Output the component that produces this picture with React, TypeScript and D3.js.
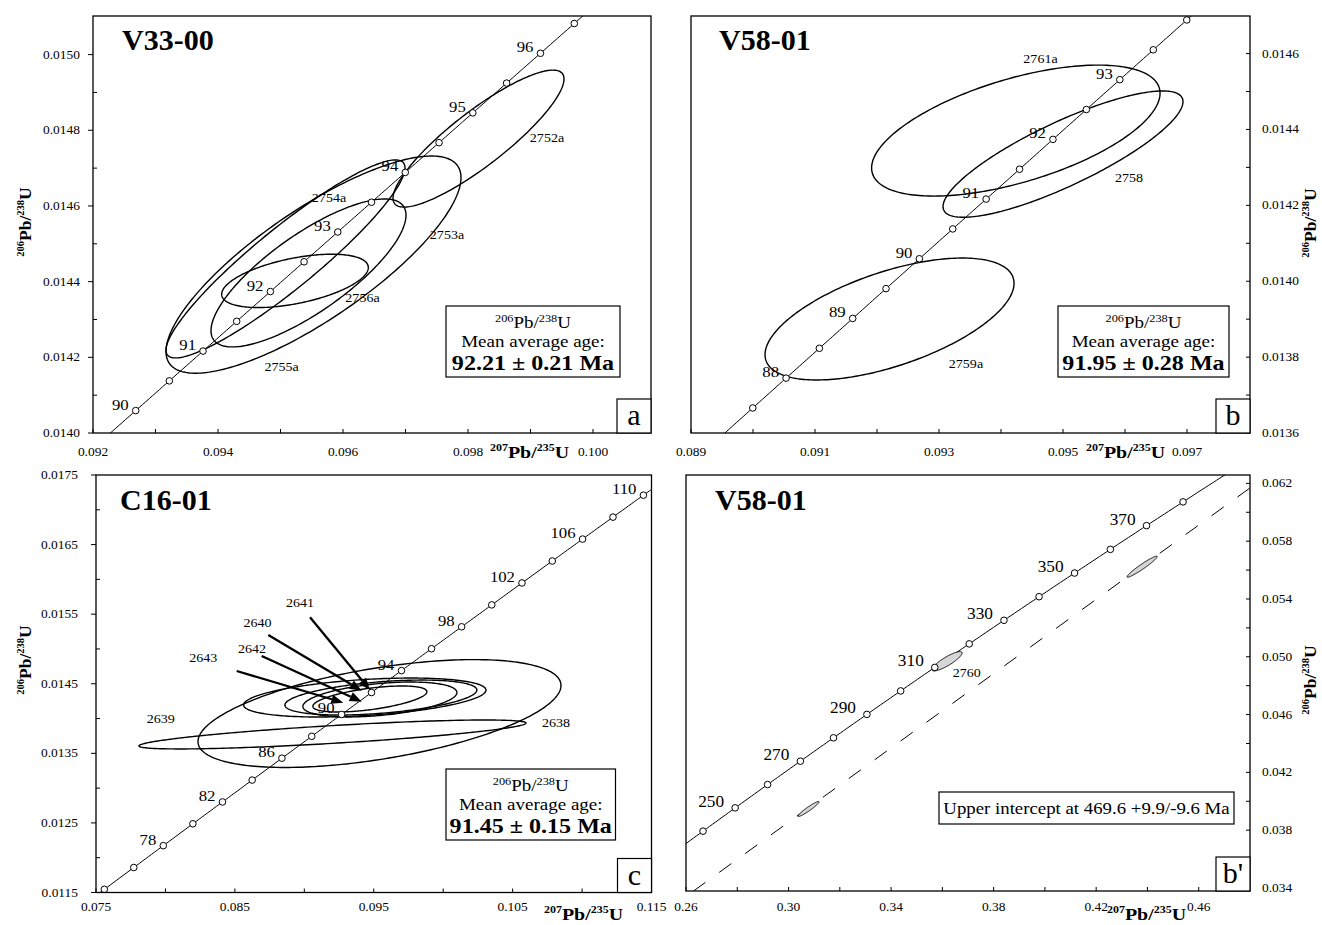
import React from "react";
import * as d3 from "d3";

const FONT = "'Liberation Serif', 'Times New Roman', Times, serif";
// decay constants per Ma
const LAMBDA_238 = 1.55125e-4;
const LAMBDA_235 = 9.8485e-4;
const concordia = (t: number): [number, number] => [Math.expm1(LAMBDA_235 * t), Math.expm1(LAMBDA_238 * t)];

type Ell = { id: string; cx: number; cy: number; sx: number; sy: number; rho: number };
type Lbl = { text: string; x: number; y: number };
type Arrow = { x1: number; y1: number; x2: number; y2: number };

// ---------------- Panel a : V33-00
const aXTicks = [0.092, 0.094, 0.096, 0.098, 0.1];
const aXMinor = [0.093, 0.095, 0.097, 0.099];
const aYTicks = [0.014, 0.0142, 0.0144, 0.0146, 0.0148, 0.015];
const aYMinor = [0.0141, 0.0143, 0.0145, 0.0147, 0.0149];
const aMarkerAges = [90, 90.5, 91, 91.5, 92, 92.5, 93, 93.5, 94, 94.5, 95, 95.5, 96, 96.5];
const aLabelAges = [90, 91, 92, 93, 94, 95, 96];
const aEllipses: Ell[] = [
  { id: "2752a", cx: 0.098168, cy: 0.014778, sx: 0.001368, sy: 0.000181, rho: 0.87 },
  { id: "2753a", cx: 0.095448, cy: 0.014423, sx: 0.00156, sy: 0.0001955, rho: 0.78 },
  { id: "2754a", cx: 0.09508, cy: 0.01446, sx: 0.001912, sy: 0.0002616, rho: 0.92 },
  { id: "2755a", cx: 0.095528, cy: 0.014445, sx: 0.00236, sy: 0.000287, rho: 0.8 },
  { id: "2756a", cx: 0.095232, cy: 0.014402, sx: 0.001173, sy: 0.0000705, rho: 0.5 },
];
const aEllipseLabels: Lbl[] = [
  { text: "2752a", x: 0.099264, y: 0.01477 },
  { text: "2753a", x: 0.097664, y: 0.014514 },
  { text: "2754a", x: 0.095776, y: 0.01461 },
  { text: "2756a", x: 0.096312, y: 0.014345 },
  { text: "2755a", x: 0.095018, y: 0.014164 },
];

// ---------------- Panel b : V58-01
const bXTicks = [0.089, 0.091, 0.093, 0.095, 0.097];
const bXMinor = [0.09, 0.092, 0.094, 0.096];
const bYTicks = [0.0136, 0.0138, 0.014, 0.0142, 0.0144, 0.0146];
const bYMinor = [0.0137, 0.0139, 0.0141, 0.0143, 0.0145];
const bMarkerAges = [87.5, 88, 88.5, 89, 89.5, 90, 90.5, 91, 91.5, 92, 92.5, 93, 93.5, 94];
const bLabelAges = [88, 89, 90, 91, 92, 93];
const bEllipses: Ell[] = [
  { id: "2761a", cx: 0.094239, cy: 0.014397, sx: 0.002326, sy: 0.0001726, rho: 0.57 },
  { id: "2758", cx: 0.095, cy: 0.014335, sx: 0.001935, sy: 0.0001665, rho: 0.83 },
  { id: "2759a", cx: 0.092202, cy: 0.0139004, sx: 0.002008, sy: 0.0001607, rho: 0.585 },
];
const bEllipseLabels: Lbl[] = [
  { text: "2761a", x: 0.094637, y: 0.014574 },
  { text: "2758", x: 0.096065, y: 0.014261 },
  { text: "2759a", x: 0.093435, y: 0.01377 },
];

// ---------------- Panel c : C16-01
const cXTicks = [0.075, 0.085, 0.095, 0.105, 0.115];
const cXMinor = [0.08, 0.09, 0.1, 0.11];
const cYTicks = [0.0115, 0.0125, 0.0135, 0.0145, 0.0155, 0.0165, 0.0175];
const cYMinor = [0.012, 0.013, 0.014, 0.015, 0.016, 0.017];
const cMarkerAges = [74, 76, 78, 80, 82, 84, 86, 88, 90, 92, 94, 96, 98, 100, 102, 104, 106, 108, 110];
const cLabelAges = [78, 82, 86, 90, 94, 98, 102, 106, 110];
const cEllipses: Ell[] = [
  { id: "2638", cx: 0.095413, cy: 0.014072, sx: 0.013069, sy: 0.000775, rho: 0.52 },
  { id: "2639", cx: 0.092029, cy: 0.013771, sx: 0.013933, sy: 0.000208, rho: 0.79 },
  { id: "2640", cx: 0.094355, cy: 0.014302, sx: 0.008727, sy: 0.00028, rho: 0.38 },
  { id: "2641", cx: 0.095514, cy: 0.014302, sx: 0.006912, sy: 0.000251, rho: 0.43 },
  { id: "2642", cx: 0.095442, cy: 0.014274, sx: 0.005544, sy: 0.000251, rho: 0.4 },
  { id: "2643", cx: 0.094722, cy: 0.014281, sx: 0.004104, sy: 0.000187, rho: 0.56 },
];
const cEllipseLabels: Lbl[] = [
  { text: "2639", x: 0.079666, y: 0.013936 },
  { text: "2638", x: 0.108122, y: 0.013883 },
  { text: "2641", x: 0.089689, y: 0.015599 },
  { text: "2640", x: 0.086629, y: 0.015311 },
  { text: "2642", x: 0.086233, y: 0.014938 },
  { text: "2643", x: 0.082726, y: 0.014817 },
];
const cArrows: Arrow[] = [
  { x1: 0.090409, y1: 0.015455, x2: 0.094729, y2: 0.01441 },
  { x1: 0.087406, y1: 0.015201, x2: 0.094132, y2: 0.0144 },
  { x1: 0.086931, y1: 0.014899, x2: 0.094132, y2: 0.014242 },
  { x1: 0.085131, y1: 0.014683, x2: 0.092807, y2: 0.014228 },
];

// ---------------- Panel b' : V58-01 (discordia)
const dXTicks = [0.26, 0.3, 0.34, 0.38, 0.42, 0.46];
const dXMinor = [0.28, 0.32, 0.36, 0.4, 0.44];
const dYTicks = [0.034, 0.038, 0.042, 0.046, 0.05, 0.054, 0.058, 0.062];
const dYMinor = [0.036, 0.04, 0.044, 0.048, 0.052, 0.056, 0.06];
const dMarkerAges = [240, 250, 260, 270, 280, 290, 300, 310, 320, 330, 340, 350, 360, 370, 380];
const dLabelAges = [250, 270, 290, 310, 330, 350, 370];
const dEllipses: Ell[] = [
  { id: "2760", cx: 0.36184, cy: 0.049689, sx: 0.00586, sy: 0.00067, rho: 0.86 },
  { id: "d1", cx: 0.30781, cy: 0.039467, sx: 0.0041, sy: 0.000519, rho: 0.95 },
  { id: "d2", cx: 0.43793, cy: 0.056235, sx: 0.00586, sy: 0.000727, rho: 0.96 },
];
const dEllipseLabels: Lbl[] = [{ text: "2760", x: 0.36949, y: 0.048623 }];
const dDiscordiaAges: [number, number] = [0, 469.6];

type Box = { x0: number; y0: number; x1: number; y1: number; lines: string[] };

type PanelCfg = {
  id: string;
  frame: { l: number; t: number; r: number; b: number };
  xDomain: [number, number];
  yDomain: [number, number];
  xTicks: number[]; xMinor: number[]; yTicks: number[]; yMinor: number[];
  xDec: number; yDec: number;
  ySide: "left" | "right";
  xLabelY: number; yLabelGap: number;
  concRange: [number, number]; concStep: number;
  markerAges: number[]; labelAges: number[]; ageFont: number; ageDx: number;
  ellipses: Ell[]; ellipseLabels: Lbl[]; ellFill?: string; ellStroke: number;
  arrows?: Arrow[];
  discordia?: [number, number];
  title: string; titleX: number; titleY: number;
  letter: string;
  box: Box;
  xTitle: { x: number; y: number };
  yTitle: { x: number; y: number };
};

const panels: PanelCfg[] = [
  {
    id: "a", frame: { l: 93, t: 16, r: 651, b: 433 },
    xDomain: [0.092, 0.100928], yDomain: [0.014, 0.015102],
    xTicks: aXTicks, xMinor: aXMinor, yTicks: aYTicks, yMinor: aYMinor, xDec: 3, yDec: 4,
    ySide: "left", xLabelY: 456, yLabelGap: 13,
    concRange: [89, 98], concStep: 0.05,
    markerAges: aMarkerAges, labelAges: aLabelAges, ageFont: 15.5, ageDx: 7,
    ellipses: aEllipses, ellipseLabels: aEllipseLabels, ellStroke: 1.4,
    title: "V33-00", titleX: 122, titleY: 50, letter: "a",
    box: { x0: 446, y0: 306, x1: 620, y1: 377, lines: ["92.21 ± 0.21 Ma"] },
    xTitle: { x: 490, y: 458 }, yTitle: { x: 31, y: 222 },
  },
  {
    id: "b", frame: { l: 691, t: 16, r: 1250, b: 433 },
    xDomain: [0.089, 0.098016], yDomain: [0.0136, 0.014699],
    xTicks: bXTicks, xMinor: bXMinor, yTicks: bYTicks, yMinor: bYMinor, xDec: 3, yDec: 4,
    ySide: "right", xLabelY: 456, yLabelGap: 12,
    concRange: [87, 95], concStep: 0.05,
    markerAges: bMarkerAges, labelAges: bLabelAges, ageFont: 15.5, ageDx: 7,
    ellipses: bEllipses, ellipseLabels: bEllipseLabels, ellStroke: 1.4,
    title: "V58-01", titleX: 719, titleY: 50, letter: "b",
    box: { x0: 1058, y0: 306, x1: 1229, y1: 377, lines: ["91.95 ± 0.28 Ma"] },
    xTitle: { x: 1086, y: 458 }, yTitle: { x: 1316, y: 223 },
  },
  {
    id: "c", frame: { l: 96, t: 475, r: 651.5, b: 892.5 },
    xDomain: [0.075, 0.115], yDomain: [0.0115, 0.0175],
    xTicks: cXTicks, xMinor: cXMinor, yTicks: cYTicks, yMinor: cYMinor, xDec: 3, yDec: 4,
    ySide: "left", xLabelY: 910.5, yLabelGap: 18,
    concRange: [72, 113], concStep: 0.2,
    markerAges: cMarkerAges, labelAges: cLabelAges, ageFont: 15.5, ageDx: 7,
    ellipses: cEllipses, ellipseLabels: cEllipseLabels, ellStroke: 1.4,
    arrows: cArrows,
    title: "C16-01", titleX: 120, titleY: 510, letter: "c",
    box: { x0: 446, y0: 769, x1: 615.5, y1: 840, lines: ["91.45 ± 0.15 Ma"] },
    xTitle: { x: 544, y: 920 }, yTitle: { x: 31, y: 660 },
  },
  {
    id: "d", frame: { l: 686, t: 475, r: 1250, b: 891 },
    xDomain: [0.26, 0.48], yDomain: [0.03379, 0.06258],
    xTicks: dXTicks, xMinor: dXMinor, yTicks: dYTicks, yMinor: dYMinor, xDec: 2, yDec: 3,
    ySide: "right", xLabelY: 910.5, yLabelGap: 12,
    concRange: [200, 420], concStep: 1,
    markerAges: dMarkerAges, labelAges: dLabelAges, ageFont: 16, ageDx: 11,
    ellipses: dEllipses, ellipseLabels: dEllipseLabels, ellFill: "#d6d6d6", ellStroke: 1,
    discordia: dDiscordiaAges,
    title: "V58-01", titleX: 715, titleY: 510, letter: "b'",
    box: { x0: 939, y0: 792, x1: 1234, y1: 824, lines: ["Upper intercept at 469.6 +9.9/-9.6 Ma"] },
    xTitle: { x: 1107, y: 920 }, yTitle: { x: 1316, y: 680 },
  },
];

const SX = 1.12; // horizontal stretch of the original figure's text

function isoSpans(a: string, b: string, big: number, small: number, rise: number) {
  return [
    <tspan key="1" fontSize={small} dy={-rise}>{a}</tspan>,
    <tspan key="2" fontSize={big} dy={rise}>Pb/</tspan>,
    <tspan key="3" fontSize={small} dy={-rise}>{b}</tspan>,
    <tspan key="4" fontSize={big} dy={rise}>U</tspan>,
  ];
}

function ellipsePoints(e: Ell, n = 240): [number, number][] {
  const k = Math.sqrt(1 - e.rho * e.rho);
  return d3.range(n).map((i) => {
    const th = (2 * Math.PI * i) / n;
    return [e.cx + e.sx * Math.cos(th), e.cy + e.sy * (e.rho * Math.cos(th) + k * Math.sin(th))] as [number, number];
  });
}

function Panel({ p }: { p: PanelCfg }) {
  const { l, t, r, b } = p.frame;
  const x = d3.scaleLinear().domain(p.xDomain).range([l, r]);
  const y = d3.scaleLinear().domain(p.yDomain).range([b, t]);
  const line = d3.line<[number, number]>().x((d) => x(d[0])).y((d) => y(d[1]));
  const closed = d3.line<[number, number]>().x((d) => x(d[0])).y((d) => y(d[1])).curve(d3.curveLinearClosed);
  const concPts = d3.range(p.concRange[0], p.concRange[1], p.concStep).map(concordia);
  const clipId = `clip-${p.id}`;
  const xf = (v: number) => v.toFixed(p.xDec);
  const yf = (v: number) => v.toFixed(p.yDec);
  const left = p.ySide === "left";
  const ax = left ? l : r;
  const cxBox = (p.box.x0 + p.box.x1) / 2;

  return (
    <g fontFamily={FONT}>
      <defs>
        <clipPath id={clipId}>
          <rect x={l} y={t} width={r - l} height={b - t} />
        </clipPath>
      </defs>
      {/* ticks */}
      <g stroke="#000" strokeWidth={1}>
        {p.xTicks.map((v) => (
          <line key={"xt" + v} x1={x(v)} x2={x(v)} y1={b} y2={b - 4} />
        ))}
        {p.xMinor.map((v) => (
          <line key={"xm" + v} x1={x(v)} x2={x(v)} y1={b} y2={b - 4} />
        ))}
        {p.yTicks.map((v) => (
          <line key={"yt" + v} x1={ax} x2={left ? ax - 5 : ax - 4} y1={y(v)} y2={y(v)} />
        ))}
        {p.yMinor.map((v) => (
          <line key={"ym" + v} x1={ax} x2={left ? ax + 4 : ax - 4} y1={y(v)} y2={y(v)} />
        ))}
      </g>
      {/* tick labels */}
      <g fontSize={12} fill="#000">
        {p.xTicks.map((v) => (
          <text key={"xl" + v} transform={`translate(${x(v)},${p.xLabelY}) scale(${SX},1)`} textAnchor="middle">
            {xf(v)}
          </text>
        ))}
        {p.yTicks.map((v) => (
          <text
            key={"yl" + v}
            transform={`translate(${left ? l - p.yLabelGap : r + p.yLabelGap},${y(v) + 4}) scale(${SX},1)`}
            textAnchor={left ? "end" : "start"}
          >
            {yf(v)}
          </text>
        ))}
      </g>
      {/* axis titles */}
      <text transform={`translate(${p.xTitle.x},${p.xTitle.y}) scale(1.14,1)`} fontWeight="bold" fill="#000">
        {isoSpans("207", "235", 17.5, 10.5, 7)}
      </text>
      <text
        transform={`translate(${p.yTitle.x},${p.yTitle.y}) rotate(-90)`}
        fontWeight="bold"
        textAnchor="middle"
        fill="#000"
      >
        {isoSpans("206", "238", 17.5, 10.5, 7)}
      </text>

      <g clipPath={`url(#${clipId})`}>
        {/* discordia */}
        {p.discordia && (
          <path
            d={line(p.discordia.map(concordia)) || ""}
            fill="none"
            stroke="#000"
            strokeWidth={1}
            strokeDasharray="15,17"
          />
        )}
        {/* concordia */}
        <path d={line(concPts) || ""} fill="none" stroke="#000" strokeWidth={1} />
        {/* ellipses */}
        {p.ellipses.map((e) => (
          <path
            key={e.id}
            d={closed(ellipsePoints(e)) || ""}
            fill={p.ellFill || "none"}
            stroke="#000"
            strokeWidth={p.ellStroke}
          />
        ))}
        {/* markers */}
        {p.markerAges.map((a) => {
          const [cx, cy] = concordia(a);
          return <circle key={"m" + a} cx={x(cx)} cy={y(cy)} r={3.3} fill="#fff" stroke="#000" strokeWidth={1} />;
        })}
        {/* arrows */}
        {(p.arrows || []).map((ar, i) => {
          const X1 = x(ar.x1), Y1 = y(ar.y1), X2 = x(ar.x2), Y2 = y(ar.y2);
          const dx = X2 - X1, dy = Y2 - Y1;
          const len = Math.hypot(dx, dy);
          const ux = dx / len, uy = dy / len;
          const hl = 12, hw = 4.8;
          const bx = X2 - ux * hl, by = Y2 - uy * hl;
          return (
            <g key={"ar" + i}>
              <line x1={X1} y1={Y1} x2={bx} y2={by} stroke="#000" strokeWidth={2.3} />
              <polygon
                points={`${X2},${Y2} ${bx - uy * hw},${by + ux * hw} ${bx + uy * hw},${by - ux * hw}`}
                fill="#000"
              />
            </g>
          );
        })}
      </g>

      {/* age labels */}
      <g fontSize={p.ageFont} fill="#000">
        {p.labelAges.map((a) => {
          const [cx, cy] = concordia(a);
          return (
            <text key={"al" + a} transform={`translate(${x(cx) - p.ageDx},${y(cy) - 1}) scale(1.08,1)`} textAnchor="end">
              {a}
            </text>
          );
        })}
      </g>
      {/* ellipse labels */}
      <g fontSize={13} fill="#000">
        {p.ellipseLabels.map((lb) => (
          <text key={lb.text} transform={`translate(${x(lb.x)},${y(lb.y)}) scale(1.08,1)`} textAnchor="middle">
            {lb.text}
          </text>
        ))}
      </g>

      {/* frame */}
      <rect x={l} y={t} width={r - l} height={b - t} fill="none" stroke="#000" strokeWidth={1.3} />

      {/* title */}
      <text x={p.titleX} y={p.titleY} fontSize={30} fontWeight="bold" fill="#000">
        {p.title}
      </text>

      {/* result box */}
      <rect
        x={p.box.x0}
        y={p.box.y0}
        width={p.box.x1 - p.box.x0}
        height={p.box.y1 - p.box.y0}
        fill="#fff"
        stroke="#000"
        strokeWidth={1.2}
      />
      {p.discordia ? (
        <text transform={`translate(${cxBox},${p.box.y0 + 22}) scale(${SX},1)`} textAnchor="middle" fontSize={16.8} fill="#000">
          {p.box.lines[0]}
        </text>
      ) : (
        <g fill="#000">
          <text transform={`translate(${cxBox},${p.box.y0 + 22}) scale(${SX},1)`} textAnchor="middle">
            {isoSpans("206", "238", 17, 11, 6)}
          </text>
          <text transform={`translate(${cxBox},${p.box.y0 + 41}) scale(${SX},1)`} textAnchor="middle" fontSize={17}>
            Mean average age:
          </text>
          <text
            transform={`translate(${cxBox},${p.box.y0 + 64}) scale(${SX},1)`}
            textAnchor="middle"
            fontSize={21.5}
            fontWeight="bold"
          >
            {p.box.lines[0]}
          </text>
        </g>
      )}

      {/* corner letter */}
      <rect x={r - 34} y={b - 34} width={34} height={34} fill="#fff" stroke="#000" strokeWidth={1.2} />
      <text x={r - 17} y={b - 8} textAnchor="middle" fontSize={30} fill="#000">
        {p.letter}
      </text>
    </g>
  );
}

export default function App() {
  return (
    <svg
      width={1322}
      height={925}
      style={{ position: "absolute", left: 0, top: 0, background: "#fff" }}
      xmlns="http://www.w3.org/2000/svg"
    >
      <rect x={0} y={0} width={1322} height={925} fill="#fff" />
      {panels.map((p) => (
        <Panel key={p.id} p={p} />
      ))}
    </svg>
  );
}
